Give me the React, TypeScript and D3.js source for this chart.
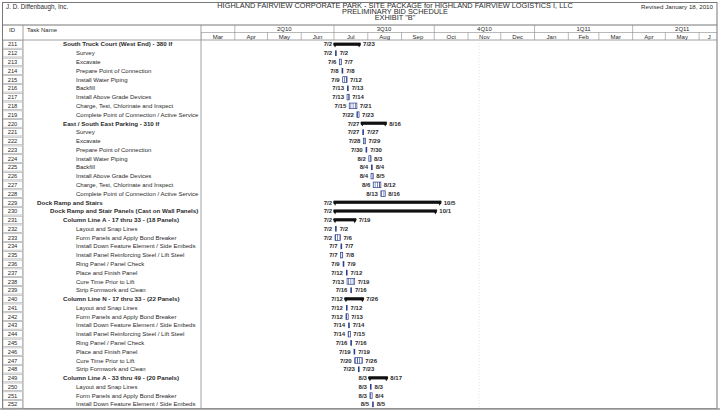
import React from "react";
import * as d3 from "d3";

const taskIds = [211,212,213,214,215,216,217,218,219,220,221,222,223,224,225,226,227,228,229,230,231,232,233,234,235,236,237,238,239,240,241,242,243,244,245,246,247,248,249,250,251,252];
const taskNames = [
  "South Truck Court (West End) - 380 lf","Survey","Excavate","Prepare Point of Connection","Install Water Piping","Backfill","Install Above Grade Devices","Charge, Test, Chlorinate and Inspect","Complete Point of Connection / Active Service",
  "East / South East Parking - 310 lf","Survey","Excavate","Prepare Point of Connection","Install Water Piping","Backfill","Install Above Grade Devices","Charge, Test, Chlorinate and Inspect","Complete Point of Connection / Active Service",
  "Dock Ramp and Stairs","Dock Ramp and Stair Panels (Cast on Wall Panels)",
  "Column Line A - 17 thru 33 - (18 Panels)","Layout and Snap Lines","Form Panels and Apply Bond Breaker","Install Down Feature Element / Side Embeds","Install Panel Reinforcing Steel / Lift Steel","Ring Panel / Panel Check","Place and Finish Panel","Cure Time Prior to Lift","Strip Formwork and Clean",
  "Column Line N - 17 thru 33 - (22 Panels)","Layout and Snap Lines","Form Panels and Apply Bond Breaker","Install Down Feature Element / Side Embeds","Install Panel Reinforcing Steel / Lift Steel","Ring Panel / Panel Check","Place and Finish Panel","Cure Time Prior to Lift","Strip Formwork and Clean",
  "Column Line A - 33 thru 49 - (20 Panels)","Layout and Snap Lines","Form Panels and Apply Bond Breaker","Install Down Feature Element / Side Embeds"
];
const taskLevels = [2,3,3,3,3,3,3,3,3, 2,3,3,3,3,3,3,3,3, 0,1, 2,3,3,3,3,3,3,3,3, 2,3,3,3,3,3,3,3,3, 2,3,3,3];
const taskSummary = [1,0,0,0,0,0,0,0,0, 1,0,0,0,0,0,0,0,0, 1,1, 1,0,0,0,0,0,0,0,0, 1,0,0,0,0,0,0,0,0, 1,0,0,0];
const taskStarts = ["7/2","7/2","7/6","7/8","7/9","7/13","7/13","7/15","7/22","7/27","7/27","7/28","7/30","8/2","8/4","8/4","8/6","8/13","7/2","7/2","7/2","7/2","7/2","7/7","7/7","7/9","7/12","7/13","7/16","7/12","7/12","7/12","7/14","7/14","7/16","7/19","7/20","7/23","8/3","8/3","8/3","8/5"];
const taskEnds = ["7/23","7/2","7/7","7/8","7/12","7/13","7/14","7/21","7/23","8/16","7/27","7/29","7/30","8/3","8/4","8/5","8/12","8/16","10/5","10/1","7/19","7/2","7/6","7/7","7/8","7/9","7/12","7/19","7/16","7/26","7/12","7/13","7/14","7/15","7/16","7/19","7/26","7/23","8/17","8/3","8/4","8/5"];

const quarterLabels = ["1Q10","2Q10","3Q10","4Q10","1Q11","2Q11"];
const monthLabels = ["Mar","Apr","May","Jun","Jul","Aug","Sep","Oct","Nov","Dec","Jan","Feb","Mar","Apr","May","J"];

const W = 720, H = 411;
const FONT = "'Liberation Sans', Arial, sans-serif";
const chartL = 201, chartR = 717;
const rowTop = 40, rowH = 8.78;
const headerBottom = 25, qBottom = 32.5;

function parseMD(s: string) {
  const [m, d] = s.split("/").map(Number);
  return new Date(2010, m - 1, d);
}

export default function App() {
  const t0 = new Date(2010, 2, 1);
  const t1 = new Date(2011, 5, 30);
  const days = d3.timeDay.count(t0, t1);
  const x = d3.scaleTime().domain([t0, t1]).range([chartL, chartL + days * 1.09]);
  const fmt = d3.timeFormat("%-m/%-d");
  const y = (i: number) => rowTop + i * rowH;

  const quarters = d3.timeMonth.every(3)!.range(new Date(2010, 0, 1), new Date(2011, 6, 1));
  const months = d3.timeMonth.range(t0, new Date(2011, 6, 1));
  const indent = [37, 50, 63, 76];
  const barColor = "#2c3f8f";
  const textColor = "#2a2a2a";
  const lineColor = "#8a8a8a";

  return (
    <div style={{ position: "fixed", left: 0, top: 0, width: W, height: H, background: "#fff" }}>
      <svg width={W} height={H} style={{ display: "block", fontFamily: FONT }}>
        <defs>
          <pattern id="hatch" patternUnits="userSpaceOnUse" width="2.2" height="6">
            <rect width="2.2" height="6" fill="#fff" />
            <line x1="1.1" y1="0" x2="1.1" y2="6" stroke={barColor} strokeWidth="0.7" />
          </pattern>
          <clipPath id="chartClip">
            <rect x={chartL} y={0} width={chartR - chartL} height={H} />
          </clipPath>
        </defs>
        <rect x={0} y={0} width={W} height={H} fill="#fff" />
        {/* outer frame */}
        <rect x={2.5} y={2.5} width={chartR - 2.5} height={406} fill="none" stroke="#777" strokeWidth={1} />
        <line x1={2.5} x2={chartR} y1={headerBottom} y2={headerBottom} stroke="#777" />
        {/* header texts */}
        <text x={6} y={9} fontSize={6.3} fill={textColor}>J. D. Diffenbaugh, Inc.</text>
        <g transform="translate(395,0) scale(1.17,1)">
          <text x={0} y={8.5} fontSize={6.3} fill={textColor} textAnchor="middle">HIGHLAND FAIRVIEW CORPORATE PARK - SITE PACKAGE for HIGHLAND FAIRVIEW LOGISTICS I, LLC</text>
          <text x={0} y={14.5} fontSize={6.3} fill={textColor} textAnchor="middle">PRELIMINARY BID SCHEDULE</text>
          <text x={0} y={20.5} fontSize={6.3} fill={textColor} textAnchor="middle">EXHIBIT "B"</text>
        </g>
        <text x={713} y={9} fontSize={6.2} fill={textColor} textAnchor="end">Revised January 18, 2010</text>

        {/* column headers */}
        <line x1={23} x2={23} y1={headerBottom} y2={408.5} stroke={lineColor} strokeWidth={0.8} />
        <line x1={chartL} x2={chartL} y1={headerBottom} y2={408.5} stroke={lineColor} strokeWidth={0.8} />
        <line x1={2.5} x2={chartR} y1={rowTop} y2={rowTop} stroke={lineColor} strokeWidth={0.8} />
        <line x1={chartL} x2={chartR} y1={qBottom} y2={qBottom} stroke={lineColor} strokeWidth={0.6} />
        <text x={9} y={32} fontSize={6} fill={textColor}>ID</text>
        <text x={27} y={32} fontSize={6} fill={textColor}>Task Name</text>

        <g clipPath="url(#chartClip)">
          {quarters.map((q, i) => {
            const qe = d3.timeMonth.offset(q, 3);
            const x0 = Math.max(x(q), chartL);
            return (
              <g key={"q" + i}>
                {x(q) > chartL && <line x1={x(q)} x2={x(q)} y1={headerBottom} y2={qBottom} stroke={lineColor} strokeWidth={0.6} />}
                {x0 < chartR && x(q) >= chartL - 1 && (
                  <text x={(x(q) + x(qe)) / 2} y={30.7} fontSize={6} fill={textColor} textAnchor="middle">{quarterLabels[i]}</text>
                )}
              </g>
            );
          })}
          {months.map((m, i) => {
            const me = d3.timeMonth.offset(m, 1);
            const xe = Math.min(x(me), chartR);
            const cx = xe < x(me) ? x(m) + 10 : (x(m) + x(me)) / 2;
            return (
              <g key={"m" + i}>
                <line x1={x(m)} x2={x(m)} y1={qBottom} y2={rowTop} stroke={lineColor} strokeWidth={0.6} />
                {i < monthLabels.length && (
                  <text x={cx} y={38.5} fontSize={6} fill={textColor} textAnchor="middle">{monthLabels[i]}</text>
                )}
              </g>
            );
          })}
          {/* faint dotted line */}
          <line x1={479} x2={479} y1={rowTop} y2={408} stroke="#ccc" strokeWidth={0.6} strokeDasharray="1,2" />
        </g>

        {/* rows */}
        {taskIds.map((id, i) => {
          const yt = y(i);
          const yc = yt + rowH / 2;
          const lvl = taskLevels[i];
          const summary = taskSummary[i] === 1;
          const s = parseMD(taskStarts[i]);
          const e = d3.timeDay.offset(parseMD(taskEnds[i]), 1);
          const xs = x(s), xe = x(e);
          return (
            <g key={id}>
              <rect x={3} y={yt + 0.6} width={19.5} height={rowH - 1.2} fill="#fff" stroke="#a0a0a0" strokeWidth={0.6} />
              <text x={12.5} y={yc + 2.1} fontSize={5.8} fill={textColor} textAnchor="middle">{id}</text>
              <text x={indent[lvl]} y={yc + 2.1} fontSize={summary ? 6.2 : 6} fill={textColor} fontWeight={summary ? "bold" : "normal"}>{taskNames[i]}</text>
              {summary ? (
                <g>
                  <rect x={xs - 1.5} y={yc - 1.8} width={xe - xs + 3} height={3.2} fill="#111" />
                  <path d={`M${xs - 2},${yc - 1} L${xs + 2},${yc - 1} L${xs},${yc + 3.2} Z`} fill="#111" />
                  <path d={`M${xe - 2},${yc - 1} L${xe + 2},${yc - 1} L${xe},${yc + 3.2} Z`} fill="#111" />
                </g>
              ) : xe - xs < 1.5 ? (
                <rect x={xs} y={yc - 2.8} width={1.6} height={5.6} fill={barColor} />
              ) : (
                <rect x={xs} y={yc - 2.8} width={xe - xs} height={5.6} fill="url(#hatch)" stroke={barColor} strokeWidth={0.7} />
              )}
              <text x={xs - 3} y={yc + 2.1} fontSize={6} fontWeight="bold" fill={textColor} textAnchor="end">{fmt(s)}</text>
              <text x={(summary ? xe + 4 : Math.max(xe, xs + 1.6) + 3)} y={yc + 2.1} fontSize={6} fontWeight="bold" fill={textColor}>{taskEnds[i]}</text>
            </g>
          );
        })}
        <line x1={0} x2={W} y1={409} y2={409} stroke="#999" strokeWidth={1.5} />
      </svg>
    </div>
  );
}
